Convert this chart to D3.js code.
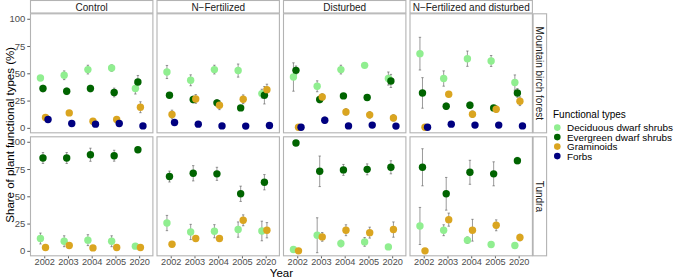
<!DOCTYPE html>
<html>
<head>
<meta charset="utf-8">
<script src="https://cdn.jsdelivr.net/npm/d3@7"></script>
<style>
body { margin: 0; background: #fff; }
text { font-family: "Liberation Sans", Arial, sans-serif; }
</style>
</head>
<body>
<svg id="graph"></svg>
<script>
// categories
let years = ["2002", "2003", "2004", "2005", "2020"];
let treatments = ["Control", "N\u2212Fertilized", "Disturbed", "N\u2212Fertilized and disturbed"];
let habitats = ["Mountain birch forest", "Tundra"];
let types = ["Deciduous dwarf shrubs", "Evergreen dwarf shrubs", "Graminoids", "Forbs"];
let colors = ["#90ee90", "#006400", "#daa520", "#000080"];
let yticks = [0, 25, 50, 75, 100];

// means per panel: rows = types, cols = years (null = absent)
let forestControl = [[45.7, 48.2, 53.4, 54.8, 36.0], [36.0, 33.5, 36.0, 32.4, 42.0], [9.5, 13.7, 6.1, 7.7, 18.9], [7.7, 4.0, 3.4, 4.0, 1.8]];
let forestNFert = [[51.2, 43.6, 53.4, 52.5, 31.4], [29.9, 26.0, 22.9, 18.3, 29.9], [12.2, 26.5, 20.7, 26.2, 35.0], [4.9, 3.4, 1.8, 1.6, 2.2]];
let forestDist = [[46.6, 38.1, 53.4, 57.3, 45.2], [52.7, 26.0, 29.3, 27.8, 43.0], [0.5, 28.3, 14.6, 11.9, 9.1], [0.5, 7.0, 1.8, 2.5, 1.6]];
let forestNFDist = [[68.0, 45.2, 63.4, 61.3, 41.5], [32.0, 19.8, 20.7, 18.3, 32.0], [0.5, 30.8, 12.5, 17.1, 24.4], [0.5, 3.4, 2.5, 2.5, 1.8]];
let tundraControl = [[11.3, 8.8, 9.8, 8.8, 4.3], [85.1, 85.1, 88.1, 87.2, 92.7], [3.1, 4.9, 2.7, 3.1, 3.1], [null, null, null, null, null]];
let tundraNFert = [[25.5, 17.3, 18.0, 19.5, 18.2], [68.1, 71.1, 70.6, 52.3, 62.9], [6.1, 11.3, 11.3, 28.0, 18.9], [null, null, null, null, null]];
let tundraDist = [[1.3, 14.3, 6.7, 8.2, 3.6], [98.8, 72.9, 74.2, 74.7, 76.6], [0.0, 12.8, 18.9, 16.7, 19.5], [null, null, null, null, null]];
let tundraNFDist = [[22.8, 18.9, 9.8, 5.8, 4.9], [76.6, 52.3, 72.0, 70.6, 82.7], [0.0, 28.6, 18.9, 23.4, 12.2], [null, null, null, null, null]];

// standard errors, same layout
let forestControlErr = [[2, 4, 4, 3, 5], [3, 3, 3, 4, 6], [2, 2, 2, 2, 5], [1, 1, 1, 1, 1]];
let forestNFertErr = [[6, 5, 4, 6, 4], [2, 3, 3, 2, 8], [4, 4, 4, 4, 5], [1, 1, 1, 1, 1]];
let forestDistErr = [[13, 5, 4, 2, 6], [4, 3, 2, 2, 6], [0.5, 3, 3, 3, 3], [0.5, 3, 1, 1, 1]];
let forestNFDistErr = [[15, 7, 7, 5, 7], [14, 3, 3, 2, 4], [0.5, 2, 3, 3, 4], [0.5, 1, 1, 1, 1]];
let tundraControlErr = [[5, 5, 5, 5, 1.5], [5, 5, 6, 5, 2], [1, 1, 1, 1, 1], [0, 0, 0, 0, 0]];
let tundraNFertErr = [[7, 7, 6, 7, 9], [5, 7, 6, 7, 7], [1, 1, 1, 5, 7], [0, 0, 0, 0, 0]];
let tundraDistErr = [[0.5, 16, 3, 4, 1], [0.5, 14, 5, 5, 6], [0, 4, 5, 5, 7], [0, 0, 0, 0, 0]];
let tundraNFDistErr = [[17, 5, 3, 2, 1], [17, 15, 11, 11, 3], [0, 6, 10, 5, 3], [0, 0, 0, 0, 0]];

let means = [[forestControl, forestNFert, forestDist, forestNFDist], [tundraControl, tundraNFert, tundraDist, tundraNFDist]];
let errs = [[forestControlErr, forestNFertErr, forestDistErr, forestNFDistErr], [tundraControlErr, tundraNFertErr, tundraDistErr, tundraNFDistErr]];

let w = 676;
let h = 277;

let leftmargin = 30;
let topstrip = 13.3;
let pw = 123.4;
let ph = 120;
let gapx = 3.1;
let gapy = 3;
let border = "#b3b3b3";
let axisgray = "#4d4d4d";

let graph = d3.select("#graph")
    .attr("width", w)
    .attr("height", h)

let panelx = i => leftmargin + i * (pw + gapx);
let panely = j => topstrip + j * (ph + gapy);

// x positions: discrete with 0.6 expansion, points dodged by type
let xscale = d3.scalePoint()
    .domain(years)
    .range([0.6 * pw / 5.2, pw - 0.6 * pw / 5.2])
let dodge = d3.scalePoint()
    .domain(types)
    .range([-0.16 * pw / 5.2, 0.16 * pw / 5.2])
let yscale = d3.scaleLinear()
    .domain([-5, 105])
    .range([ph, 0])

for (let j = 0; j < habitats.length; j++) {
    for (let i = 0; i < treatments.length; i++) {
        let g = graph.append("g")
            .attr("transform", `translate(${panelx(i)},${panely(j)})`)

        g.append("rect")
            .attr("x", 0.5).attr("y", 0.5)
            .attr("width", pw - 1).attr("height", ph - 1)
            .attr("fill", "#fff")
            .attr("stroke", border)
            .attr("stroke-width", 1.1)

        let pts = [];
        types.forEach((t, k) => {
            years.forEach((yr, n) => {
                let v = means[j][i][k][n];
                if (v !== null) pts.push({type: t, k: k, year: yr, v: v, e: errs[j][i][k][n]});
            })
        })

        let bars = g.selectAll(".err")
            .data(pts.filter(d => d.e > 0))
            .enter().append("g")
            .attr("class", "err")
            .attr("transform", d => `translate(${xscale(d.year) + dodge(d.type)},0)`)
        bars.append("line")
            .attr("x1", 0).attr("x2", 0)
            .attr("y1", d => yscale(d.v - d.e)).attr("y2", d => yscale(d.v + d.e))
        bars.append("line")
            .attr("x1", -1.2).attr("x2", 1.2)
            .attr("y1", d => yscale(d.v - d.e)).attr("y2", d => yscale(d.v - d.e))
        bars.append("line")
            .attr("x1", -1.2).attr("x2", 1.2)
            .attr("y1", d => yscale(d.v + d.e)).attr("y2", d => yscale(d.v + d.e))
        bars.selectAll("line")
            .attr("stroke", "#555")
            .attr("stroke-width", 0.6)

        g.selectAll("circle")
            .data(pts)
            .enter().append("circle")
            .attr("cx", d => xscale(d.year) + dodge(d.type))
            .attr("cy", d => yscale(d.v))
            .attr("r", 3.7)
            .style("fill", d => colors[d.k])

        // top strips
        if (j == 0) {
            let s = graph.append("g")
                .attr("transform", `translate(${panelx(i)},0)`)
            s.append("rect")
                .attr("x", 0.5).attr("y", 0.5)
                .attr("width", pw - 1).attr("height", topstrip - 0.8)
                .attr("fill", "#fff")
                .attr("stroke", border)
                .attr("stroke-width", 1.1)
            s.append("text")
                .text(treatments[i])
                .attr("x", pw / 2)
                .attr("y", topstrip / 2 + 0.5)
                .attr("dy", "0.35em")
                .attr("text-anchor", "middle")
                .style("font-size", "10px")
                .style("fill", "#1a1a1a")
        }

        // y axis on first column
        if (i == 0) {
            let yaxis = d3.axisLeft(yscale).tickValues(yticks).tickSize(2.75).tickPadding(2)
            let ya = g.append("g").call(yaxis)
            ya.select(".domain").remove()
            ya.selectAll("line").attr("stroke", "#333").attr("stroke-width", 0.8)
            ya.selectAll("text").style("font-size", "9.5px").style("fill", axisgray).style("font-family", "Liberation Sans, Arial, sans-serif")
        }

        // x axis on bottom row
        if (j == habitats.length - 1) {
            let xaxis = d3.axisBottom(xscale).tickSize(2).tickPadding(0)
            let xa = g.append("g").attr("transform", `translate(0,${ph})`).call(xaxis)
            xa.select(".domain").remove()
            xa.selectAll("line").attr("stroke", "#333").attr("stroke-width", 0.8)
            xa.selectAll("text").attr("y", 1.8).style("font-size", "9.2px").style("fill", axisgray).style("font-family", "Liberation Sans, Arial, sans-serif")
        }
    }

    // right strips
    let rx = panelx(treatments.length - 1) + pw;
    let rs = graph.append("g")
        .attr("transform", `translate(${rx},${panely(j)})`)
    rs.append("rect")
        .attr("x", 0.2).attr("y", 0.5)
        .attr("width", 13.5).attr("height", ph - 1)
        .attr("fill", "#fff")
        .attr("stroke", border)
        .attr("stroke-width", 1.1)
    rs.append("text")
        .text(habitats[j])
        .attr("transform", `translate(7,${ph / 2}) rotate(90)`)
        .attr("dy", "0.35em")
        .attr("text-anchor", "middle")
        .style("font-size", "10px")
        .style("fill", "#1a1a1a")
}

// axis titles
graph.append("text")
    .text("Share of plant functional types (%)")
    .attr("transform", `translate(10,${(panely(0) + panely(1) + ph) / 2}) rotate(-90)`)
    .attr("dy", "0.35em")
    .attr("text-anchor", "middle")
    .style("font-size", "11.5px")

graph.append("text")
    .text("Year")
    .attr("x", (leftmargin + panelx(3) + pw) / 2)
    .attr("y", 276.5)
    .attr("text-anchor", "middle")
    .style("font-size", "11.5px")

// legend
let legend = graph.append("g")
    .attr("transform", "translate(553,0)")
legend.append("text")
    .text("Functional types")
    .attr("x", 0)
    .attr("y", 114)
    .attr("dy", "0.35em")
    .style("font-size", "10px")
let items = legend.selectAll(".item")
    .data(types)
    .enter().append("g")
    .attr("class", "item")
    .attr("transform", (d, k) => `translate(0,${127.6 + k * 9.5})`)
items.append("circle")
    .attr("cx", 4.3)
    .attr("r", 3.3)
    .style("fill", (d, k) => colors[k])
items.append("text")
    .text(d => d)
    .attr("x", 14)
    .attr("dy", "0.35em")
    .style("font-size", "9.9px")
</script>
</body>
</html>
